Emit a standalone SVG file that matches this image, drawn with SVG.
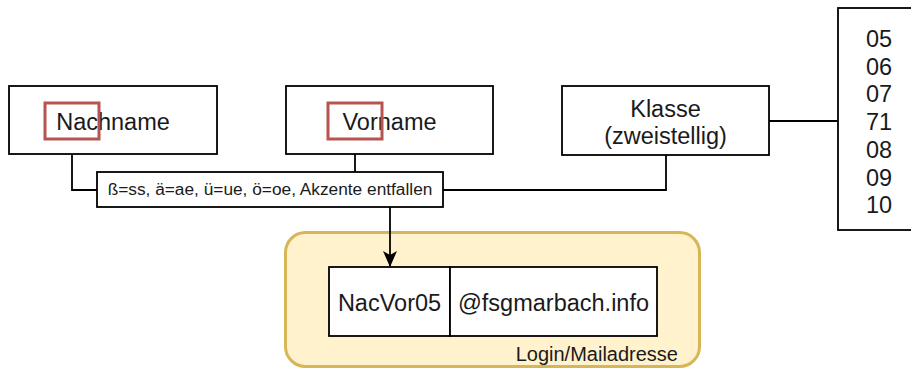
<svg xmlns="http://www.w3.org/2000/svg" width="911" height="369" viewBox="0 0 911 369">
<style>
.box{fill:#fff;stroke:#000;stroke-width:1.8}
.red{fill:none;stroke:#b85450;stroke-width:3}
.t{font-family:"Liberation Sans",Arial,sans-serif;fill:#1a1a1a}
.big{font-size:23.5px}
.small{font-size:17.3px}
.c{text-anchor:middle}
.conn{fill:none;stroke:#000;stroke-width:1.8}
</style>
<defs>
<marker id="arr" markerWidth="16" markerHeight="14" refX="15" refY="7" orient="auto" markerUnits="userSpaceOnUse" viewBox="0 0 16 14">
<path d="M0,0 L16,7 L0,14 L4,7 Z" fill="#000"/>
</marker>
</defs>
<rect width="911" height="369" fill="#fff"/>
<g id="container">
<rect x="285.5" y="232.5" width="414" height="134" rx="20" fill="#fff2cc" stroke="#d6b656" stroke-width="3"/>
<text class="t" x="678" y="361" text-anchor="end" font-size="20">Login/Mailadresse</text>
</g>
<g id="connectors">
<path class="conn" d="M72,139 V190 H97"/>
<path class="conn" d="M355,139 V172"/>
<path class="conn" d="M666,155 V190 H443"/>
<path class="conn" d="M769,121 H838"/>
<path class="conn" d="M390,207 V266" marker-end="url(#arr)"/>
</g>
<g id="nachname">
<rect class="box" x="9" y="86" width="208" height="68"/>
<text class="t big c" x="113" y="130">Nachname</text>
<rect class="red" x="45" y="103" width="54" height="36"/>
</g>
<g id="vorname">
<rect class="box" x="286" y="86" width="207" height="68"/>
<text class="t big c" x="389.5" y="130">Vorname</text>
<rect class="red" x="328" y="103" width="54" height="36"/>
</g>
<g id="klasse">
<rect class="box" x="562" y="86" width="207" height="69"/>
<text class="t big c" x="665.5" y="117">Klasse</text>
<text class="t big c" x="665.5" y="144">(zweistellig)</text>
</g>
<g id="werte">
<rect class="box" x="838" y="8" width="90" height="222"/>
<text class="t big" x="866" y="47">05</text>
<text class="t big" x="866" y="74.7">06</text>
<text class="t big" x="866" y="102.4">07</text>
<text class="t big" x="866" y="130.1">71</text>
<text class="t big" x="866" y="157.8">08</text>
<text class="t big" x="866" y="185.5">09</text>
<text class="t big" x="866" y="213.2">10</text>
</g>
<g id="regel">
<rect class="box" x="97" y="172" width="346" height="35"/>
<text class="t small c" x="270" y="195">ß=ss, ä=ae, ü=ue, ö=oe, Akzente entfallen</text>
</g>
<g id="login">
<rect class="box" x="329" y="267" width="121" height="69"/>
<text class="t big c" x="389.5" y="311">NacVor05</text>
</g>
<g id="domain">
<rect class="box" x="450" y="267" width="207" height="69"/>
<text class="t big c" x="553.5" y="311">@fsgmarbach.info</text>
</g>
</svg>
